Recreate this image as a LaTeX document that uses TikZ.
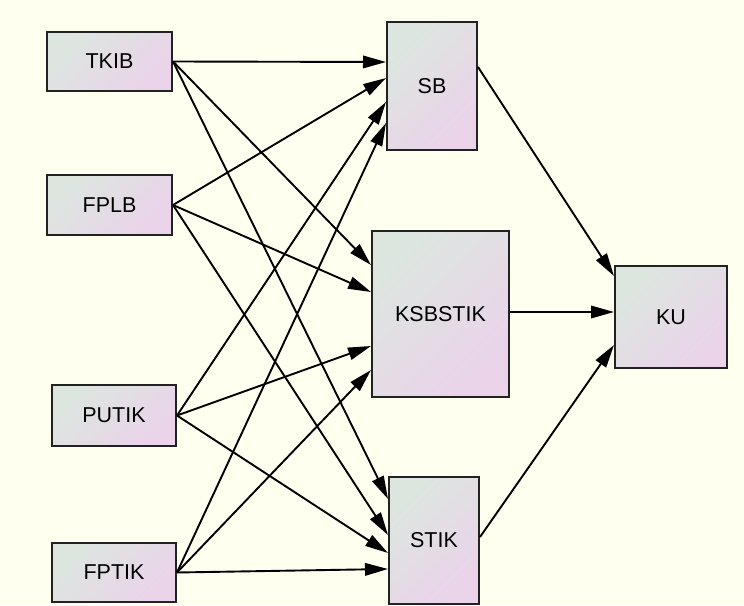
\documentclass[tikz,border=0pt]{standalone}
\usepackage{fontspec}
\setmainfont{Liberation Sans}
\usetikzlibrary{arrows.meta,calc}
\definecolor{bgc}{HTML}{FFFFF0}
\definecolor{boxa}{HTML}{DCE6DF}
\definecolor{boxb}{HTML}{EBD3EA}
\definecolor{edgec}{HTML}{222222}
\tikzset{
  box/.style={draw=edgec, line width=2pt, rectangle, inner sep=0pt,
    left color=boxa, right color=boxb, shading angle=45,
    font=\fontsize{21.5}{24}\selectfont},
  conn/.style={draw=black, line width=1.9pt, -{Triangle[length=23pt,width=12.5pt]}}
}
\begin{document}
\begin{tikzpicture}[x=1pt,y=-1pt]
\fill[bgc] (0,0) rectangle (744,605);
\useasboundingbox (0,0) rectangle (744,605);
\node[box, minimum width=125pt, minimum height=59pt] (TKIB) at (109.5,61.5) {TKIB};
\node[box, minimum width=125pt, minimum height=60pt] (FPLB) at (109.5,205) {FPLB};
\node[box, minimum width=124pt, minimum height=61pt] (PUTIK) at (114,415.5) {PUTIK};
\node[box, minimum width=124pt, minimum height=59pt] (FPTIK) at (114,572.5) {FPTIK};
\node[box, minimum width=90pt, minimum height=128pt] (SB) at (432,86) {SB};
\node[box, minimum width=137pt, minimum height=166pt] (KSBSTIK) at (440.5,314) {KSBSTIK};
\node[box, minimum width=90pt, minimum height=127pt] (STIK) at (434,540.5) {STIK};
\node[box, minimum width=112pt, minimum height=102pt] (KU) at (671,317) {KU};
% to SB
\draw[conn] (TKIB.east) -- ($(SB.west)+(0,-24)$);
\draw[conn] (FPLB.east) -- ($(SB.west)+(0,-8)$);
\draw[conn] (PUTIK.east) -- ($(SB.west)+(0,16)$);
\draw[conn] (FPTIK.east) -- ($(SB.west)+(0,37)$);
% to KSBSTIK
\draw[conn] (TKIB.east) -- ($(KSBSTIK.west)+(0,-49)$);
\draw[conn] (FPLB.east) -- ($(KSBSTIK.west)+(0,-22)$);
\draw[conn] (PUTIK.east) -- ($(KSBSTIK.west)+(0,32)$);
\draw[conn] (FPTIK.east) -- ($(KSBSTIK.west)+(0,56)$);
% to STIK
\draw[conn] (TKIB.east) -- ($(STIK.west)+(0,-41.5)$);
\draw[conn] (FPLB.east) -- ($(STIK.west)+(0,-5.5)$);
\draw[conn] (PUTIK.east) -- ($(STIK.west)+(0,12.5)$);
\draw[conn] (FPTIK.east) -- ($(STIK.west)+(0,28.5)$);
% to KU
\draw[conn] ($(SB.east)+(0,-19)$) -- ($(KU.west)+(0,-41)$);
\draw[conn] ($(KSBSTIK.east)+(0,-2)$) -- ($(KU.west)+(0,-5)$);
\draw[conn] ($(STIK.east)+(0,-3.5)$) -- ($(KU.west)+(0,28)$);
\end{tikzpicture}
\end{document}
